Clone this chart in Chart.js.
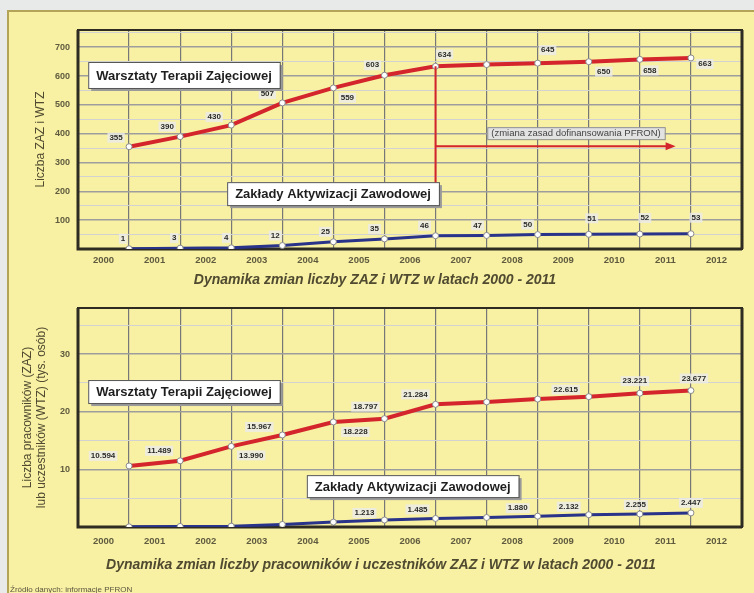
<!DOCTYPE html>
<html>
<head>
<meta charset="utf-8">
<script src="https://cdn.jsdelivr.net/npm/chart.js@4.4.1/dist/chart.umd.min.js"></script>
<style>
  body { margin: 0; width: 754px; height: 593px; overflow: hidden; position: relative; background: #e8eae9; font-family: "Liberation Sans", Arial, sans-serif; }
  #panel { position: absolute; left: 7px; top: 10px; width: 747px; height: 583px; box-sizing: border-box; background: #f8f0a3; border-left: 2px solid #b3a457; border-top: 2px solid #b3a457; }
  canvas { position: absolute; left: 0; }
  #countChart { top: 0; }
  #peopleChart { top: 292px; }
  #source { position: absolute; left: 10px; top: 585px; font-size: 8px; color: #5a5640; }
</style>
</head>
<body>
<div id="panel"></div>
<canvas id="countChart" width="754" height="292"></canvas>
<canvas id="peopleChart" width="754" height="301"></canvas>
<div id="source">Źródło danych: informacje PFRON</div>
<script>
// years on the axis, and the years that have data
const yearLabels = ['2000', '2001', '2002', '2003', '2004', '2005', '2006', '2007', '2008', '2009', '2010', '2011', '2012'];
const dataYears = [2000, 2001, 2002, 2003, 2004, 2005, 2006, 2007, 2008, 2009, 2010, 2011];
const gridYears = [1999, 2000, 2001, 2002, 2003, 2004, 2005, 2006, 2007, 2008, 2009, 2010, 2011, 2012];

// number of WTZ / ZAZ
const wtzCount = [355, 390, 430, 507, 559, 603, 634, 640, 645, 650, 658, 663];
const zazCount = [1, 3, 4, 12, 25, 35, 46, 47, 50, 51, 52, 53];

// participants / employees, thousands
const wtzPeople = [10.594, 11.489, 13.990, 15.967, 18.228, 18.797, 21.284, 21.7, 22.2, 22.615, 23.221, 23.677];
const zazPeople = [0.03, 0.1, 0.15, 0.45, 0.85, 1.213, 1.485, 1.65, 1.880, 2.132, 2.255, 2.447];

const countTicks = [0, 50, 100, 150, 200, 250, 300, 350, 400, 450, 500, 550, 600, 650, 700, 750];
const peopleTicks = [0, 5, 10, 15, 20, 25, 30, 35];

// where each value label sits relative to its point [dx, dy]
const wtzCountLabelPos = [[-13, -9], [-13, -10], [-17, -8], [-15, -9], [14, 10], [-12, -10], [9, -12], null, [10, -13], [15, 10], [10, 11], [14, 6]];
const zazCountLabelPos = [[-6, -10], [-6, -10], [-5, -10], [-7, -10], [-8, -10], [-10, -10], [-11, -10], [-9, -10], [-10, -10], [3, -16], [5, -16], [5, -16]];
const wtzPeopleLabelPos = [[-26, -10], [-21, -10], [20, 9], [-23, -8], [22, 10], [-19, -12], [-20, -10], null, null, [-23, -7], [-5, -12], [3, -12]];
const zazPeopleLabelPos = [null, null, null, null, null, [-20, -7], [-18, -9], null, [-20, -8], [-20, -8], [-4, -9], [0, -10]];

const RED = '#d3252b';
const BLUE = '#283389';
const TICK_COLOR = '#5f5b3f';
const FONT = '"Liberation Sans", Arial, sans-serif';

function toPoints(values) {
    return dataYears.map((year, i) => ({ x: year, y: values[i] }));
}

const plotFrame = {
    id: 'plotFrame',
    beforeDatasetsDraw(chart) {
        const { ctx, chartArea: a } = chart;
        ctx.save();
        ctx.strokeStyle = '#2e2c22';
        ctx.lineWidth = 2;
        ctx.strokeRect(a.left, a.top, a.right - a.left, a.bottom - a.top);
        ctx.lineWidth = 3;
        ctx.beginPath();
        ctx.moveTo(a.left, a.top);
        ctx.lineTo(a.left, a.bottom);
        ctx.lineTo(a.right, a.bottom);
        ctx.moveTo(a.right, a.top);
        ctx.lineTo(a.right, a.bottom);
        ctx.stroke();
        ctx.restore();
    }
};

const valueLabels = {
    id: 'valueLabels',
    afterDatasetsDraw(chart) {
        const ctx = chart.ctx;
        ctx.save();
        ctx.font = 'bold 8px ' + FONT;
        ctx.textAlign = 'center';
        ctx.textBaseline = 'middle';
        chart.data.datasets.forEach((ds, i) => {
            if (!ds.labelPos) return;
            chart.getDatasetMeta(i).data.forEach((pt, j) => {
                const pos = ds.labelPos[j];
                if (!pos) return;
                const text = ds.labelFormat(ds.data[j].y);
                const x = pt.x + pos[0];
                const y = pt.y + pos[1];
                const w = ctx.measureText(text).width + 4;
                ctx.fillStyle = 'rgba(235,235,235,0.8)';
                ctx.fillRect(x - w / 2, y - 5, w, 10);
                ctx.fillStyle = '#2a2a2a';
                ctx.fillText(text, x, y);
            });
        });
        ctx.restore();
    }
};

// boxed series names, anchored by their top-left corner in data units
const seriesBoxes = {
    id: 'seriesBoxes',
    afterDatasetsDraw(chart, args, opts) {
        const ctx = chart.ctx;
        const sx = chart.scales.x, sy = chart.scales.y;
        ctx.save();
        (opts.boxes || []).forEach(b => {
            ctx.font = 'bold 13px ' + FONT;
            const x = sx.getPixelForValue(b.x);
            const y = sy.getPixelForValue(b.y);
            const w = ctx.measureText(b.text).width + 16;
            const h = b.h;
            ctx.fillStyle = '#9a9a9a';
            ctx.fillRect(x + 3, y + 3, w, h);
            ctx.fillStyle = '#ffffff';
            ctx.fillRect(x, y, w, h);
            ctx.strokeStyle = '#555555';
            ctx.lineWidth = 1;
            ctx.strokeRect(x + 0.5, y + 0.5, w, h);
            ctx.fillStyle = '#1e1e1e';
            ctx.textAlign = 'left';
            ctx.textBaseline = 'middle';
            ctx.fillText(b.text, x + 8, y + h / 2 + 1);
        });
        ctx.restore();
    }
};

// change of PFRON funding rules, marked in 2006
const policyNote = {
    id: 'policyNote',
    afterDatasetsDraw(chart) {
        const ctx = chart.ctx;
        const sx = chart.scales.x, sy = chart.scales.y;
        const x0 = sx.getPixelForValue(2006);
        const x1 = sx.getPixelForValue(2010.7);
        const yArrow = sy.getPixelForValue(357);
        ctx.save();
        ctx.strokeStyle = RED;
        ctx.fillStyle = RED;
        ctx.lineWidth = 2;
        ctx.beginPath();
        ctx.moveTo(x0, sy.getPixelForValue(634));
        ctx.lineTo(x0, sy.getPixelForValue(232));
        ctx.moveTo(x0, yArrow);
        ctx.lineTo(x1 - 8, yArrow);
        ctx.stroke();
        ctx.beginPath();
        ctx.moveTo(x1, yArrow);
        ctx.lineTo(x1 - 10, yArrow - 4);
        ctx.lineTo(x1 - 10, yArrow + 4);
        ctx.closePath();
        ctx.fill();

        const text = '(zmiana zasad dofinansowania PFRON)';
        ctx.font = '9.5px ' + FONT;
        const tx = sx.getPixelForValue(2008.75);
        const ty = sy.getPixelForValue(402);
        const w = ctx.measureText(text).width + 8;
        ctx.fillStyle = '#e2e2e2';
        ctx.fillRect(tx - w / 2, ty - 6, w, 12);
        ctx.strokeStyle = '#8f8f8f';
        ctx.lineWidth = 1;
        ctx.strokeRect(tx - w / 2 + 0.5, ty - 5.5, w, 12);
        ctx.fillStyle = '#444444';
        ctx.textAlign = 'center';
        ctx.textBaseline = 'middle';
        ctx.fillText(text, tx, ty + 0.5);
        ctx.restore();
    }
};

function lineDataset(label, values, color, width, labelPos, labelFormat) {
    return {
        label: label,
        data: toPoints(values),
        xAxisID: 'x',
        yAxisID: 'y',
        borderColor: color,
        borderWidth: width,
        pointRadius: 3,
        pointBackgroundColor: '#ffffff',
        pointBorderColor: '#8a8a8a',
        pointBorderWidth: 1,
        tension: 0,
        labelPos: labelPos,
        labelFormat: labelFormat
    };
}

function buildOptions(cfg) {
    return {
        responsive: false,
        animation: false,
        layout: { padding: cfg.padding },
        plugins: {
            legend: { display: false },
            tooltip: { enabled: false },
            title: {
                display: true,
                position: 'bottom',
                text: cfg.title,
                color: '#4f4a30',
                font: { family: FONT, size: 14, style: 'italic' },
                padding: { top: 2, bottom: 2 }
            },
            seriesBoxes: { boxes: cfg.boxes }
        },
        scales: {
            x: {
                type: 'linear',
                position: 'bottom',
                min: 1999,
                max: 2012,
                afterBuildTicks: s => { s.ticks = gridYears.map(v => ({ value: v })); },
                afterFit: s => { s.height = 0; },
                grid: { color: '#777777', lineWidth: 1.2, drawTicks: false },
                border: { display: false },
                ticks: { display: false }
            },
            xl: {
                type: 'category',
                position: 'bottom',
                labels: yearLabels,
                offset: true,
                afterFit: s => { s.height = cfg.labelAxisHeight; },
                grid: { display: false, drawTicks: false },
                border: { display: false },
                ticks: {
                    autoSkip: false,
                    maxRotation: 0,
                    padding: cfg.labelPadding,
                    color: TICK_COLOR,
                    font: { family: FONT, size: 9.5, weight: 'bold' }
                }
            },
            y: {
                type: 'linear',
                min: 0,
                max: cfg.yMax,
                afterBuildTicks: s => { s.ticks = cfg.yTicks.map(v => ({ value: v })); },
                afterFit: s => { s.width = cfg.yWidth; },
                grid: {
                    color: c => (c.tick.value % cfg.majorStep === 0 ? '#9d9d9d' : '#d2d2d2'),
                    lineWidth: c => (c.tick.value % cfg.majorStep === 0 ? 1.6 : 1),
                    drawTicks: false
                },
                border: { display: false },
                ticks: {
                    padding: 8,
                    color: TICK_COLOR,
                    font: { family: FONT, size: 9, weight: 'bold' },
                    callback: v => (v > 0 && v % cfg.labelStep === 0 ? String(v) : '')
                },
                title: {
                    display: true,
                    text: cfg.yTitle,
                    color: '#4f4a30',
                    font: { family: FONT, size: 12 },
                    padding: { top: cfg.yTitlePad, bottom: 0 }
                }
            }
        }
    };
}

new Chart(document.getElementById('countChart'), {
    type: 'line',
    data: {
        datasets: [
            lineDataset('Warsztaty Terapii Zajęciowej', wtzCount, RED, 4, wtzCountLabelPos, v => String(v)),
            lineDataset('Zakłady Aktywizacji Zawodowej', zazCount, BLUE, 3, zazCountLabelPos, v => String(v))
        ]
    },
    options: buildOptions({
        padding: { left: 8, right: 12, top: 30, bottom: 1.6 },
        title: 'Dynamika zmian liczby ZAZ i WTZ w latach 2000 - 2011',
        labelAxisHeight: 20.6,
        labelPadding: 5.6,
        yMax: 760,
        yTicks: countTicks,
        yWidth: 70,
        majorStep: 100,
        labelStep: 100,
        yTitle: 'Liczba ZAZ i WTZ',
        yTitlePad: 25,
        boxes: [
            { text: 'Warsztaty Terapii Zajęciowej', x: 1999.2, y: 649, h: 26 },
            { text: 'Zakłady Aktywizacji Zawodowej', x: 2001.92, y: 232, h: 23 }
        ]
    }),
    plugins: [plotFrame, valueLabels, seriesBoxes, policyNote]
});

new Chart(document.getElementById('peopleChart'), {
    type: 'line',
    data: {
        datasets: [
            lineDataset('Warsztaty Terapii Zajęciowej', wtzPeople, RED, 4, wtzPeopleLabelPos, v => v.toFixed(3)),
            lineDataset('Zakłady Aktywizacji Zawodowej', zazPeople, BLUE, 3, zazPeopleLabelPos, v => v.toFixed(3))
        ]
    },
    options: buildOptions({
        padding: { left: 20, right: 12, top: 16, bottom: 17.6 },
        title: 'Dynamika zmian liczby pracowników i uczestników ZAZ i WTZ w latach 2000 - 2011',
        labelAxisHeight: 27.6,
        labelPadding: 8.6,
        yMax: 38,
        yTicks: peopleTicks,
        yWidth: 58,
        majorStep: 10,
        labelStep: 10,
        yTitle: ['Liczba pracowników (ZAZ)', 'lub uczestników (WTZ) (tys. osób)'],
        yTitlePad: 0,
        boxes: [
            { text: 'Warsztaty Terapii Zajęciowej', x: 1999.2, y: 25.5, h: 23 },
            { text: 'Zakłady Aktywizacji Zawodowej', x: 2003.48, y: 9.0, h: 22 }
        ]
    }),
    plugins: [plotFrame, valueLabels, seriesBoxes]
});
</script>
</body>
</html>
